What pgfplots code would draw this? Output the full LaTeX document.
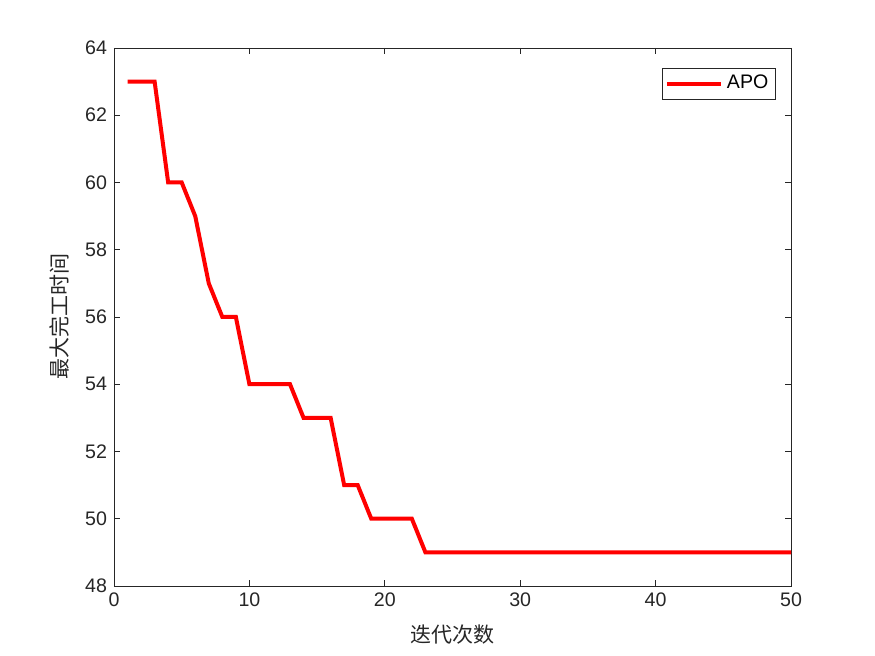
\documentclass[border=0pt]{standalone}
\usepackage{pgfplots}
\pgfplotsset{compat=1.18}
\usepackage{fontspec}
\setmainfont{Liberation Sans}
\newfontfamily\cjk{Noto Sans CJK SC}
\definecolor{axgray}{RGB}{38,38,38}

\begin{document}
\begin{tikzpicture}
\begin{axis}[
  name=ax,
  scale only axis,
  width=338.5pt, height=269pt,
  xmin=0, xmax=50, ymin=48, ymax=64,
  xtick={0,10,...,50}, ytick={48,50,...,64},
  tick align=inside, tick pos=both,
  major tick length=3pt,
  axis line style={axgray, line width=0.4pt},
  every tick/.style={axgray, line width=0.4pt},
  tick label style={font=\fontsize{9.8}{11}\selectfont, text=axgray},
  /pgf/number format/assume math mode=true,
  xlabel={\cjk 迭代次数},
  ylabel={\cjk 最大完工时间},
  label style={font=\fontsize{10.5}{12}\selectfont, text=axgray},
  xlabel style={yshift=-2pt},
  ylabel style={yshift=1pt},
  legend style={at={(0.9775,0.963)}, anchor=north east, draw=axgray,
    font=\fontsize{9.8}{11}\selectfont, inner sep=1.5pt},
  legend cell align=left,
  legend image code/.code={\draw[#1] (0cm,0cm) -- (0.95cm,0cm);},
]
\addplot[red, line width=2pt] coordinates {
  (1,63) (2,63) (3,63) (4,60) (5,60) (6,59) (7,57) (8,56) (9,56) (10,54)
  (11,54) (12,54) (13,54) (14,53) (15,53) (16,53) (17,51) (18,51) (19,50) (20,50)
  (21,50) (22,50) (23,49) (24,49) (25,49) (26,49) (27,49) (28,49) (29,49) (30,49)
  (31,49) (32,49) (33,49) (34,49) (35,49) (36,49) (37,49) (38,49) (39,49) (40,49)
  (41,49) (42,49) (43,49) (44,49) (45,49) (46,49) (47,49) (48,49) (49,49) (50,49)
};
\addlegendentry{APO}
\end{axis}
\pgfresetboundingbox
\path ([shift={(-57pt,-35pt)}]ax.south west) rectangle ([shift={(42pt,24pt)}]ax.north east);
\end{tikzpicture}
\end{document}
